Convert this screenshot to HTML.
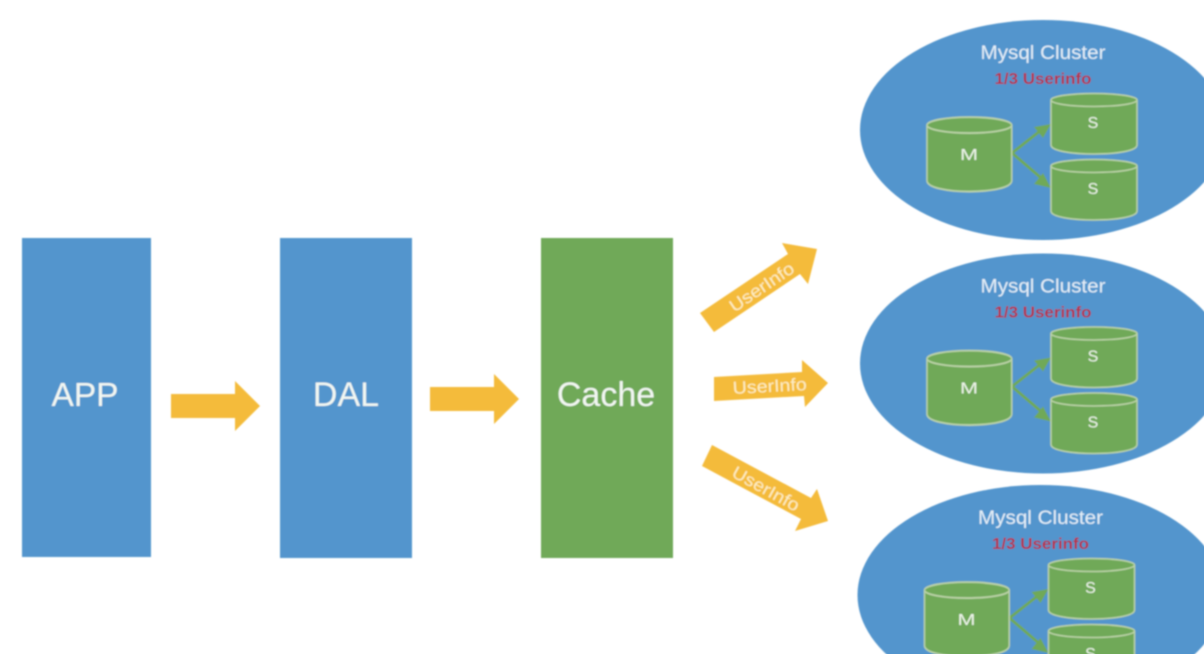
<!DOCTYPE html>
<html><head><meta charset="utf-8"><style>
html,body{margin:0;padding:0;background:#fff;width:1204px;height:654px;overflow:hidden}
svg{display:block}
text{font-family:"Liberation Sans",sans-serif;fill:#f2f7f2;text-anchor:middle}
.c{font-size:19px;fill:#e6f0f8}
.r{font-size:16px;fill:#b5324a;font-weight:bold}
.l{font-size:16px;fill:#eef5ea}
.u{font-size:17.5px;fill:#fdeec4}
</style></head><body>
<svg width="1204" height="654" viewBox="0 0 1204 654" xmlns="http://www.w3.org/2000/svg">
<defs>
<filter id="b" x="-5%" y="-5%" width="110%" height="110%"><feGaussianBlur stdDeviation="0.7"/></filter>
<g id="cyl">
<path d="M0 8 V52 C0 64 86 64 86 52 V8 Z" fill="#70a958" stroke="#bcd3a8" stroke-width="1.5"/>
<ellipse cx="43" cy="7" rx="43" ry="6.5" fill="#70a958" stroke="#bcd3a8" stroke-width="1.5"/>
</g>
<g id="cluster">
<ellipse cx="1043" cy="130" rx="183" ry="110" fill="#5295cd"/>
<text class="c" x="1043" y="59" textLength="125" lengthAdjust="spacingAndGlyphs">Mysql Cluster</text>
<text class="r" x="1043" y="84" textLength="97" lengthAdjust="spacingAndGlyphs">1/3 Userinfo</text>
<path d="M1012 153 L1040 131" stroke="#70a958" stroke-width="3" fill="none"/>
<path d="M1012 153 L1040 177" stroke="#70a958" stroke-width="3" fill="none"/>
<path d="M1051 124 L1034 127 L1043 138 Z" fill="#70a958"/>
<path d="M1051 188 L1034 184 L1043 173 Z" fill="#70a958"/>
<use href="#cyl" x="1051" y="93"/>
<use href="#cyl" x="1051" y="159"/>
<g transform="translate(927 116.5) scale(0.985 1.23)"><use href="#cyl"/></g>
<text class="l" x="969" y="160" textLength="18" lengthAdjust="spacingAndGlyphs">M</text>
<text class="l" x="1093" y="128">S</text>
<text class="l" x="1093" y="194">S</text>
</g>
</defs>
<g filter="url(#b)">
<rect x="22" y="238" width="129" height="319" fill="#5295cd"/>
<rect x="280" y="238" width="132" height="320" fill="#5295cd"/>
<rect x="541" y="238" width="132" height="320" fill="#70a958"/>
<text x="85" y="406" font-size="33.5">APP</text>
<text x="346" y="406" font-size="34">DAL</text>
<text x="606" y="406" font-size="34">Cache</text>
<path d="M171 394 H235 V381 L260 406 L235 431 V418 H171 Z" fill="#f4bb3b"/>
<path d="M430 387 H494 V374 L519 399 L494 424 V411 H430 Z" fill="#f4bb3b"/>
<path d="M700 313 L788 254 L782 243 L817 249 L808 284 L800 274 L714 332 Z" fill="#f4bb3b"/>
<path d="M714 377 L802 372 L802 360 L828 383 L805 407 L804 396 L714 401 Z" fill="#f4bb3b"/>
<path d="M712 445 L811 498 L817 489 L828 521 L795 531 L801 519 L702 466 Z" fill="#f4bb3b"/>
<text class="u" transform="translate(765 292) rotate(-34)" textLength="74" lengthAdjust="spacingAndGlyphs">UserInfo</text>
<text class="u" transform="translate(770 392) rotate(-3)" textLength="74" lengthAdjust="spacingAndGlyphs">UserInfo</text>
<text class="u" transform="translate(763 494) rotate(29)" textLength="74" lengthAdjust="spacingAndGlyphs">UserInfo</text>
<use href="#cluster"/>
<use href="#cluster" y="233.5"/>
<use href="#cluster" x="-2.5" y="465"/>
</g>
</svg>
</body></html>
